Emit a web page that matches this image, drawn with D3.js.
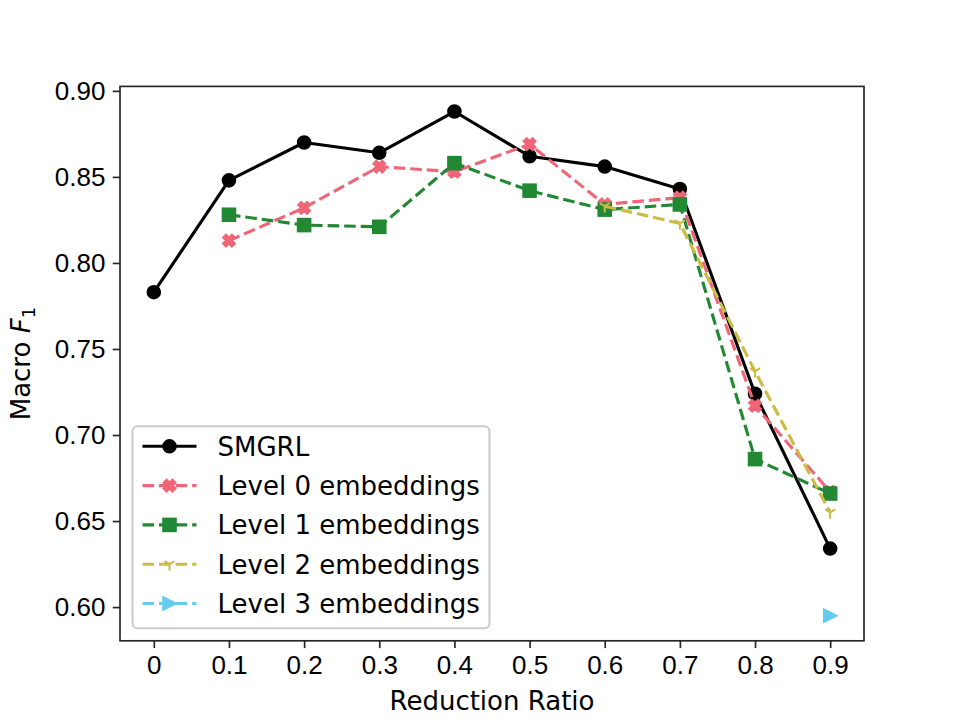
<!DOCTYPE html>
<meta charset="utf-8">
<html>
<head>
<style>
  body { margin: 0; background: #fff; }
  svg { font-family: "DejaVu Sans", sans-serif; }
  .axis path, .axis line { stroke: #262626; }
  .axis text { font-size: 26px; fill: #000; }
</style>
</head>
<body>
<div id="chart"></div>
<script src="https://cdn.jsdelivr.net/npm/d3@7"></script>
<script>

// reduction ratios on the x axis, with the labels shown under the ticks
var ratios = [0, 0.1, 0.2, 0.3, 0.4, 0.5, 0.6, 0.7, 0.8, 0.9];
var ratioLabels = ["0", "0.1", "0.2", "0.3", "0.4", "0.5", "0.6", "0.7", "0.8", "0.9"];
var yTicks = [0.60, 0.65, 0.70, 0.75, 0.80, 0.85, 0.90];

// macro F1 per series (null = not plotted)
var smgrl  = [0.783, 0.848, 0.870, 0.864, 0.888, 0.862, 0.856, 0.843, 0.724, 0.634];
var level0 = [null, 0.813, 0.832, 0.856, 0.853, 0.869, 0.834, 0.838, 0.717, 0.667];
var level1 = [null, 0.828, 0.822, 0.821, 0.858, 0.842, 0.831, 0.834, 0.686, 0.666];
var level2 = [null, null, null, null, null, null, 0.833, 0.823, 0.737, 0.655];
var level3 = [null, null, null, null, null, null, null, null, null, 0.595];

var seriesNames = ["SMGRL", "Level 0 embeddings", "Level 1 embeddings", "Level 2 embeddings", "Level 3 embeddings"];
var seriesColors = ["#000000", "#EE6677", "#228833", "#CCBB44", "#66CCEE"];
var seriesMarkers = ["o", "X", "s", "1", ">"];
var seriesDashed = [false, true, true, true, true];
var seriesValues = [smgrl, level0, level1, level2, level3];

var W = 960, H = 720;
var margin = {top: 86.4, right: 96, bottom: 79.2, left: 120};
var width = W - margin.left - margin.right,
    height = H - margin.top - margin.bottom;

var lw = 3.125, ms = 12.5, mew = 2.083;

var SVG = d3.select("#chart").append("svg")
  .attr("width", W)
  .attr("height", H);

var svg = SVG.append("g").attr("transform", "translate(" + margin.left + "," + margin.top + ")");

var x = d3.scaleLinear().domain([-0.045, 0.945]).range([0, width]);
var y = d3.scaleLinear().domain([0.5804, 0.9026]).range([height, 0]);

svg.append("defs").append("clipPath").attr("id", "clip")
  .append("rect").attr("width", width).attr("height", height);

// marker shapes, in matplotlib style
function markerPath(m) {
  var s = ms / 2;
  if (m === "X") {
    var pts = [[-1,-3],[1,-3],[1,-1],[3,-1],[3,1],[1,1],[1,3],[-1,3],[-1,1],[-3,1],[-3,-1],[-1,-1]];
    var c = Math.SQRT1_2;
    return "M" + pts.map(function(p) {
      var px = p[0] / 3 * s, py = p[1] / 3 * s;
      return [(px * c - py * c).toFixed(2), (px * c + py * c).toFixed(2)].join(",");
    }).join("L") + "Z";
  }
  if (m === ">") {
    return "M" + s + ",0L" + (-s) + "," + (-s) + "L" + (-s) + "," + s + "Z";
  }
  if (m === "1") {
    return "M0,0L0," + s + "M0,0L" + (0.8 * s) + "," + (-0.5 * s) + "M0,0L" + (-0.8 * s) + "," + (-0.5 * s);
  }
  return null;
}

function drawMarker(g, m, color, cx, cy) {
  if (m === "o") {
    g.append("circle").attr("cx", cx).attr("cy", cy).attr("r", ms / 2)
      .attr("fill", color).attr("stroke", color).attr("stroke-width", mew);
  } else if (m === "s") {
    g.append("rect").attr("x", cx - ms / 2).attr("y", cy - ms / 2)
      .attr("width", ms).attr("height", ms)
      .attr("fill", color).attr("stroke", color).attr("stroke-width", mew);
  } else {
    g.append("path").attr("d", markerPath(m))
      .attr("transform", "translate(" + cx + "," + cy + ")")
      .attr("fill", m === "1" ? "none" : color)
      .attr("stroke", color).attr("stroke-width", mew)
      .attr("stroke-linejoin", "miter");
  }
}

var line = d3.line()
  .defined(function(d) { return d[1] !== null; })
  .x(function(d) { return x(d[0]); })
  .y(function(d) { return y(d[1]); });

var plot = svg.append("g").attr("clip-path", "url(#clip)");

seriesValues.forEach(function(vals, i) {
  var pts = ratios.map(function(r, j) { return [r, vals[j]]; });
  var g = plot.append("g");
  g.append("path")
    .datum(pts)
    .attr("d", line)
    .attr("fill", "none")
    .attr("stroke", seriesColors[i])
    .attr("stroke-width", lw)
    .attr("stroke-dasharray", seriesDashed[i] ? "11.56,5" : null)
    .attr("stroke-linejoin", "round");
  pts.filter(function(d) { return d[1] !== null; }).forEach(function(d) {
    drawMarker(g, seriesMarkers[i], seriesColors[i], x(d[0]), y(d[1]));
  });
});

// axes
var xAxis = d3.axisBottom(x).tickValues(ratios)
  .tickFormat(function(d, i) { return ratioLabels[i]; })
  .tickSize(7.3).tickPadding(7.3).tickSizeOuter(0);
var yAxis = d3.axisLeft(y).tickValues(yTicks)
  .tickFormat(d3.format(".2f"))
  .tickSize(7.3).tickPadding(7.3).tickSizeOuter(0);

var gx = svg.append("g").attr("class", "axis")
  .attr("transform", "translate(0," + height + ")").call(xAxis);
var gy = svg.append("g").attr("class", "axis").call(yAxis);
gx.select(".domain").remove();
gy.select(".domain").remove();
svg.selectAll(".tick line").attr("stroke-width", 1.67);

svg.append("rect")
  .attr("width", width).attr("height", height)
  .attr("fill", "none").attr("stroke", "#262626").attr("stroke-width", 1.67);

// axis labels
svg.append("text")
  .attr("x", width / 2).attr("y", height + 69)
  .attr("text-anchor", "middle")
  .style("font-size", "26px")
  .text("Reduction Ratio");

var ylab = svg.append("text")
  .attr("transform", "translate(" + (-90) + "," + (height / 2) + ") rotate(-90)")
  .attr("text-anchor", "middle")
  .style("font-size", "26px");
ylab.append("tspan").text("Macro ");
ylab.append("tspan").attr("font-style", "italic").text("F");
ylab.append("tspan").attr("dy", 5).style("font-size", "18px").text("1");

// legend
var lg = svg.append("g").attr("transform", "translate(12.5," + (height - 12.5 - 202) + ")");
lg.append("rect")
  .attr("width", 357).attr("height", 202)
  .attr("rx", 5).attr("ry", 5)
  .attr("fill", "rgba(255,255,255,0.8)")
  .attr("stroke", "#cccccc").attr("stroke-width", 2.08);

seriesNames.forEach(function(name, i) {
  var cy = 20 + i * 39.3;
  var row = lg.append("g");
  row.append("line")
    .attr("x1", 10).attr("x2", 64).attr("y1", cy).attr("y2", cy)
    .attr("stroke", seriesColors[i]).attr("stroke-width", lw)
    .attr("stroke-dasharray", seriesDashed[i] ? "11.56,5" : null);
  drawMarker(row, seriesMarkers[i], seriesColors[i], 37, cy);
  row.append("text")
    .attr("x", 85).attr("y", cy).attr("dy", "0.36em")
    .style("font-size", "26px")
    .text(name);
});

</script>
</body>
</html>
